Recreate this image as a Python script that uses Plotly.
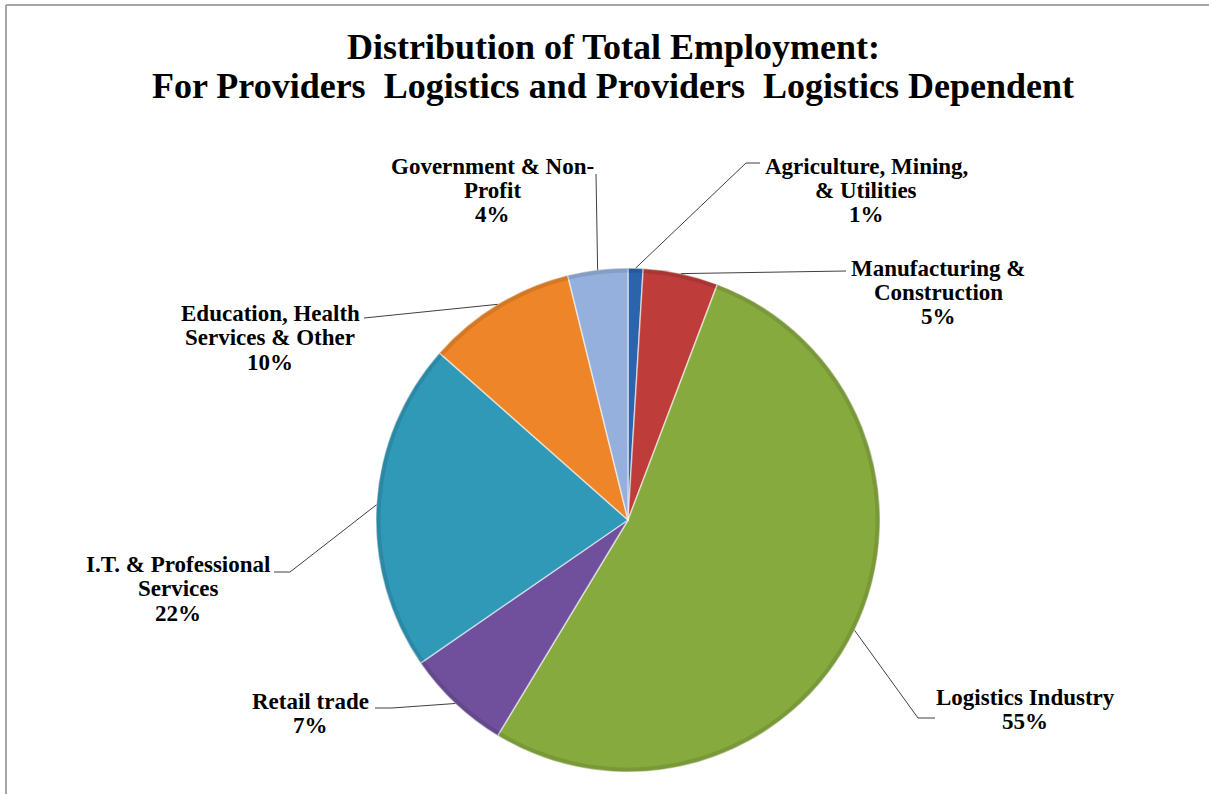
import math
import plotly.graph_objects as go

# Employment shares by sector (percent), clockwise from 12 o'clock
sectors = [
    ["Agriculture, Mining,", "& Utilities"],
    ["Manufacturing &", "Construction"],
    ["Logistics Industry"],
    ["Retail trade"],
    ["I.T. & Professional", "Services"],
    ["Education, Health", "Services & Other"],
    ["Government & Non-", "Profit"],
]
shares = [1, 5, 55, 7, 22, 10, 4]
colors = ["#2B64AA", "#BE3C39", "#87AA3F", "#70509C", "#3099B8", "#EE8629", "#95B0DC"]
title_lines = [
    "Distribution of Total Employment:",
    "For Providers  Logistics and Providers  Logistics Dependent",
]

W, H = 1209, 794
CX, CY, R = 628, 520, 252          # pie centre and radius, px
FONT = "Liberation Serif"
LABEL_SIZE = 23
LABEL_STEP = 24.5                  # px between label lines


def px(x):
    return x / W


def py(y):
    return 1 - y / H


# first-line centre of each label (px), knee of the leader line (px), end of the stub (px or None)
label_layout = [
    ((866, 166), (746, 163), (760, 163)),
    ((938, 268), (846, 271), None),
    ((1025, 697), (918, 718), (935, 718)),
    ((310, 701), (392, 708), (375, 708)),
    ((178, 564), (290, 572), (274, 572)),
    ((270, 313), (364, 318), None),
    ((492, 166), (596, 174), None),
]

domain = dict(x=[px(CX - R), px(CX + R)], y=[py(CY + R), py(CY - R)])
labels = [" ".join(s) for s in sectors]

fig = go.Figure()
fig.add_trace(go.Pie(
    labels=labels,
    values=shares,
    sort=False,
    direction="clockwise",
    rotation=0,
    marker=dict(colors=colors, line=dict(color="rgba(255,255,255,0.55)", width=1.5)),
    textinfo="none",
    hovertemplate="%{label}: %{value}%<extra></extra>",
    domain=domain,
    showlegend=False,
))
# faint darker rim along the outer edge of every slice
fig.add_trace(go.Pie(
    labels=labels,
    values=shares,
    sort=False,
    direction="clockwise",
    rotation=0,
    hole=0.982,
    marker=dict(colors=["rgba(0,0,0,0.10)"] * len(shares), line=dict(width=0)),
    textinfo="none",
    hoverinfo="skip",
    domain=domain,
    showlegend=False,
))

shapes = []
annotations = []


def text_line(x, y, s, size):
    return dict(x=px(x), y=py(y), xref="paper", yref="paper",
                xanchor="center", yanchor="middle", showarrow=False,
                text=f"<b>{s}</b>", font=dict(family=FONT, size=size, color="#000000"))


total = sum(shares)
cum = 0
for name, val, (lab, knee, stub) in zip(sectors, shares, label_layout):
    mid = (cum + val / 2) / total * 2 * math.pi
    cum += val
    ex = CX + R * math.sin(mid)
    ey = CY - R * math.cos(mid)
    shapes.append(dict(type="line", xref="paper", yref="paper",
                       x0=px(ex), y0=py(ey), x1=px(knee[0]), y1=py(knee[1]),
                       line=dict(color="#404040", width=1)))
    if stub:
        shapes.append(dict(type="line", xref="paper", yref="paper",
                           x0=px(knee[0]), y0=py(knee[1]), x1=px(stub[0]), y1=py(stub[1]),
                           line=dict(color="#404040", width=1)))
    for i, s in enumerate(name + [f"{val}%"]):
        annotations.append(text_line(lab[0], lab[1] + i * LABEL_STEP, s, LABEL_SIZE))

# chart title, two centred lines
for i, s in enumerate(title_lines):
    annotations.append(text_line(613, 47 + i * 39, s, 36))

# chart frame (top and left edges fall inside the page)
shapes.append(dict(type="line", xref="paper", yref="paper", x0=px(6), y0=py(5), x1=1.01, y1=py(5),
                   line=dict(color="#A6A6A6", width=2)))
shapes.append(dict(type="line", xref="paper", yref="paper", x0=px(6), y0=py(5), x1=px(6), y1=-0.01,
                   line=dict(color="#A6A6A6", width=2)))

fig.update_layout(
    width=W, height=H,
    margin=dict(l=0, r=0, t=0, b=0),
    paper_bgcolor="white",
    plot_bgcolor="white",
    shapes=shapes,
    annotations=annotations,
)

fig.write_html("out.html")
